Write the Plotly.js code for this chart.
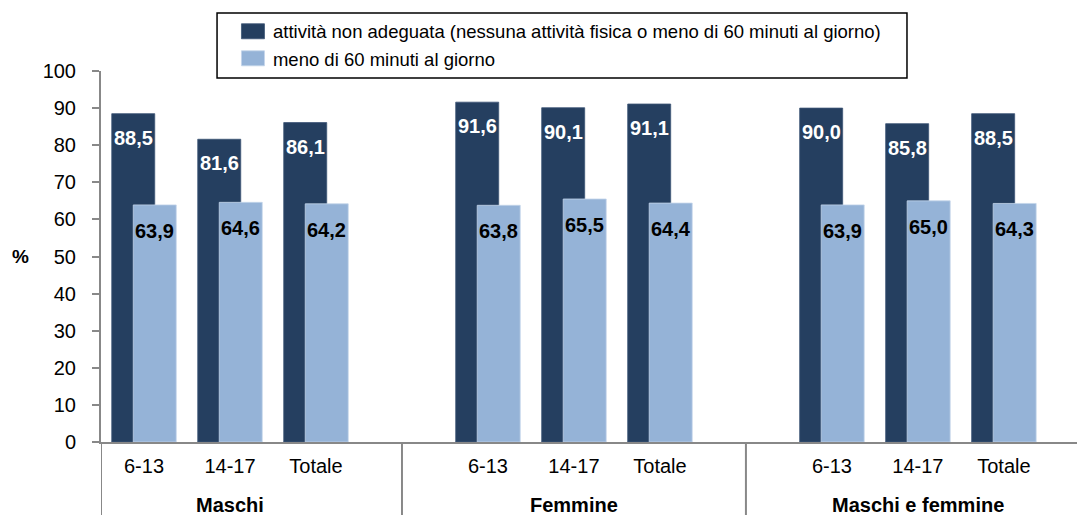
<!DOCTYPE html>
<html>
<head>
<meta charset="utf-8">
<script src="https://cdn.plot.ly/plotly-3.0.1.min.js"></script>
<style>html,body{margin:0;padding:0;background:#fff;}#chart{width:1077px;height:515px;}</style>
</head>
<body>
<div id="chart"></div>
<script>
// ---- data ----
const groups = ["Maschi", "Femmine", "Maschi e femmine"];
const ageClasses = ["6-13", "14-17", "Totale"];
const seriesNames = [
  "attività non adeguata (nessuna attività fisica o meno di 60 minuti al giorno)",
  "meno di 60 minuti al giorno"
];
const nonAdeguata = [88.5, 81.6, 86.1, 91.6, 90.1, 91.1, 90.0, 85.8, 88.5];
const menoDi60 = [63.9, 64.6, 64.2, 63.8, 65.5, 64.4, 63.9, 65.0, 64.3];

// ---- layout helpers ----
const slotsPerGroup = ageClasses.length + 1; // one empty slot between groups
const xPos = [], tickText = [];
groups.forEach((g, gi) => ageClasses.forEach((a, ai) => {
  xPos.push(gi * slotsPerGroup + ai);
  tickText.push(a);
}));
const fmt = v => v.toFixed(1).replace('.', ',');
const font = "Liberation Sans, Arial, sans-serif";
const darkCol = "#253F60", lightCol = "#95B3D7";

const traces = [
  {type: "bar", name: seriesNames[0], x: xPos, y: nonAdeguata, offset: -0.375, width: 0.5,
   marker: {color: darkCol, line: {color: "#3e5676", width: 0.8}}, legendgroup: "a", hoverinfo: "skip"},
  {type: "bar", name: seriesNames[1], x: xPos, y: menoDi60, offset: -0.125, width: 0.5,
   marker: {color: lightCol, line: {color: "#c3d4ea", width: 0.8}}, legendgroup: "b", hoverinfo: "skip"}
];

const annotations = [];
xPos.forEach((x, i) => {
  annotations.push({x: x - 0.125, y: nonAdeguata[i], xref: "x", yref: "y", text: "<b>" + fmt(nonAdeguata[i]) + "</b>",
    showarrow: false, yanchor: "middle", yshift: -24, font: {family: font, size: 20, color: "#ffffff"}});
  annotations.push({x: x + 0.125, y: menoDi60[i], xref: "x", yref: "y", text: "<b>" + fmt(menoDi60[i]) + "</b>",
    showarrow: false, yanchor: "middle", yshift: -26, font: {family: font, size: 20, color: "#000000"}});
});
groups.forEach((g, gi) => {
  annotations.push({x: gi * slotsPerGroup + 1, y: 0, xref: "x", yref: "paper", yanchor: "middle", yshift: -63,
    text: "<b>" + g + "</b>", showarrow: false, font: {family: font, size: 20, color: "#000"}});
});
annotations.push({x: 0, xref: "paper", xanchor: "center", xshift: -81, y: 0.5, yref: "paper",
  text: "<b>%</b>", showarrow: false, font: {family: font, size: 19, color: "#000"}});

const shapes = [];
[-0.5, slotsPerGroup - 1, 2 * slotsPerGroup - 1].forEach(x => {
  shapes.push({type: "line", xref: "x", yref: "paper", x0: x, x1: x, y0: 0, y1: -0.3,
    line: {color: "#888888", width: 2}});
});
shapes.push({type: "rect", xref: "paper", yref: "paper", x0: 0.1189, x1: 0.8258, y0: 0.981, y1: 1.156,
  line: {color: "#000", width: 1.5}, fillcolor: "rgba(0,0,0,0)", layer: "below"});

const layout = {
  width: 1077, height: 515,
  margin: {l: 101, r: 0, t: 71, b: 73},
  paper_bgcolor: "#fff", plot_bgcolor: "#fff",
  barmode: "overlay",
  showlegend: true,
  legend: {x: 0.1352, y: 1.157, xanchor: "left", yanchor: "top", bgcolor: "rgba(0,0,0,0)",
    font: {family: font, size: 18.5, color: "#000"},
    tracegroupgap: 11, traceorder: "normal"},
  xaxis: {range: [-0.5, 10.85], tickvals: xPos, ticktext: tickText, showgrid: false, zeroline: false,
    showline: true, linecolor: "#888888", linewidth: 2, ticks: "", ticklabelstandoff: 5,
    tickfont: {family: font, size: 20, color: "#000"}, fixedrange: true},
  yaxis: {range: [0, 100], dtick: 10, showgrid: false, zeroline: false, showline: true,
    linecolor: "#888888", linewidth: 2, ticks: "outside", ticklen: 7, tickwidth: 2, tickcolor: "#888888",
    ticklabelstandoff: 12, tickfont: {family: font, size: 20, color: "#000"}, fixedrange: true},
  annotations: annotations,
  shapes: shapes
};
Plotly.newPlot("chart", traces, layout, {displayModeBar: false, staticPlot: true}).then(gd => {
  // reference legend swatches are wider rectangles (about 23 x 15 px)
  gd.querySelectorAll(".legendpoints path").forEach(p => {
    p.setAttribute("d", "M11.5,7.5H-11.5V-7.5H11.5Z");
  });
});
</script>
</body>
</html>
